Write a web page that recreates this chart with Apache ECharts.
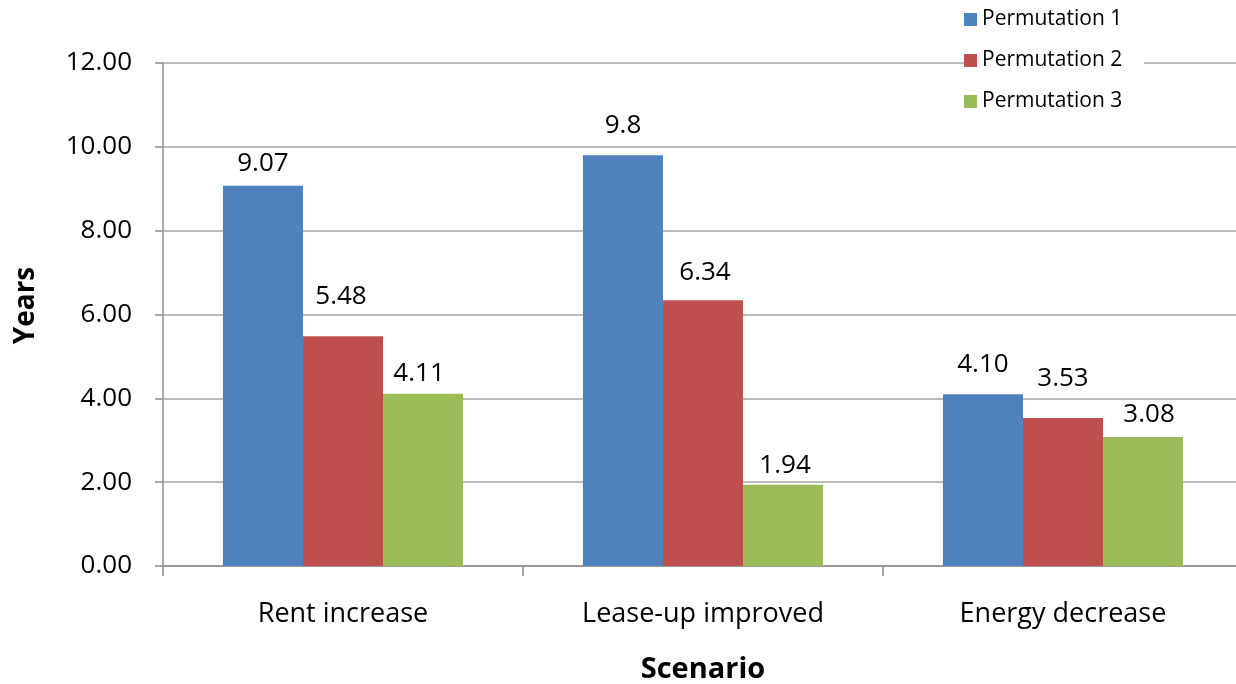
<!DOCTYPE html>
<html>
<head>
<meta charset="utf-8">
<title>Years by scenario</title>
<script src="https://cdn.jsdelivr.net/npm/echarts@6/dist/echarts.min.js"></script>
<style>
  html, body { margin: 0; padding: 0; background: #ffffff; overflow: hidden; }
  #chart { width: 1236px; height: 684px; }
</style>
</head>
<body>
<div id="chart"></div>
<script>
// Scenarios on the category axis
const scenarios = ['Rent increase', 'Lease-up improved', 'Energy decrease'];

// Years per scenario, written as printed on the bars
const permutation1 = ['9.07', '9.8', '4.10'];
const permutation2 = ['5.48', '6.34', '3.53'];
const permutation3 = ['4.11', '1.94', '3.08'];

const seriesNames = ['Permutation 1', 'Permutation 2', 'Permutation 3'];

// Value axis ticks
const yTicks = ['0.00', '2.00', '4.00', '6.00', '8.00', '10.00', '12.00'];

// Label placement tweaks (distance above bar, horizontal nudge)
const labelLift = [[9, 17, 17], [27, 15, 26], [7, 6, 9]];
const labelNudge = [[0, 0, 0], [-2, 2, 0], [-4, 2, 6]];

const colors = ['#4F81BD', '#C0504D', '#9BBB59'];
const FONT = '"Open Sans", "Noto Sans", sans-serif';

function buildSeries(values, idx) {
  return {
    name: seriesNames[idx],
    type: 'bar',
    barGap: '0%',
    barCategoryGap: '33.3%',
    itemStyle: { color: colors[idx] },
    data: values.map((v, i) => ({
      value: Number(v),
      label: {
        show: true,
        position: 'top',
        distance: labelLift[idx][i],
        offset: [labelNudge[idx][i], 0],
        formatter: () => v,
        color: '#000000',
        fontFamily: FONT,
        fontSize: 26
      }
    }))
  };
}

const chart = echarts.init(document.getElementById('chart'), null, { renderer: 'canvas' });

chart.setOption({
  backgroundColor: '#ffffff',
  animation: false,
  textStyle: { fontFamily: FONT },
  legend: {
    orient: 'vertical',
    left: 964,
    top: 3,
    itemWidth: 13,
    itemHeight: 13,
    itemGap: 20,
    padding: [6, 22, 6, 0],
    backgroundColor: '#ffffff',
    icon: 'rect',
    textStyle: { fontFamily: FONT, fontSize: 21, color: '#000000' },
    data: seriesNames
  },
  grid: {
    left: 163,
    top: 63,
    width: 1080,
    bottom: 118,
    containLabel: false,
    outerBoundsMode: 'none'
  },
  xAxis: {
    type: 'category',
    data: scenarios,
    name: 'Scenario',
    nameLocation: 'middle',
    nameGap: 89,
    nameTextStyle: { fontFamily: FONT, fontSize: 29, fontWeight: 'bold', color: '#000000' },
    axisLine: { show: true, lineStyle: { color: '#8c8c8c', width: 1.5 } },
    axisTick: { show: true, length: 10, alignWithLabel: false, lineStyle: { color: '#8c8c8c', width: 1.5 } },
    axisLabel: { margin: 35, fontFamily: FONT, fontSize: 27, color: '#000000' },
    splitLine: { show: false }
  },
  yAxis: {
    type: 'value',
    min: 0,
    max: 12,
    interval: 2,
    name: 'Years',
    nameLocation: 'middle',
    nameRotate: 90,
    nameGap: 123,
    nameTextStyle: { fontFamily: FONT, fontSize: 28, fontWeight: 'bold', color: '#000000', padding: [0, 0, 0, 18] },
    axisLine: { show: true, lineStyle: { color: '#8c8c8c', width: 1.5 } },
    axisTick: { show: true, length: 8, lineStyle: { color: '#8c8c8c', width: 1.5 } },
    axisLabel: {
      margin: 31,
      fontFamily: FONT,
      fontSize: 26,
      color: '#000000',
      formatter: (v) => yTicks[Math.round(v / 2)]
    },
    splitLine: { show: true, lineStyle: { color: '#a6a6a6', width: 1.5 } }
  },
  series: [
    buildSeries(permutation1, 0),
    buildSeries(permutation2, 1),
    buildSeries(permutation3, 2)
  ]
});
</script>
</body>
</html>
